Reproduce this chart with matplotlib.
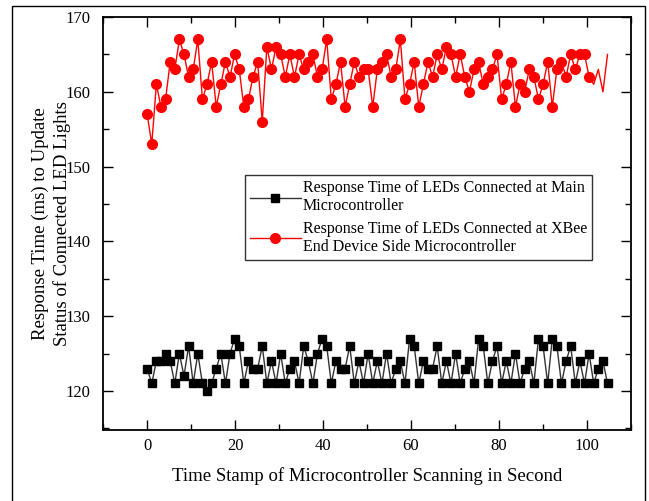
import matplotlib
matplotlib.use('Agg')
import matplotlib.pyplot as plt
import numpy as np
from matplotlib.patches import Rectangle
from matplotlib.ticker import MultipleLocator

plt.rcParams['font.family'] = ['Liberation Serif', 'DejaVu Serif']

# Scan time stamps (s), one reading per scan
scan_time = np.linspace(0, 104.7, 101)

# Response time (ms) for LEDs wired to the main microcontroller
main_ms = [123, 121, 124, 124, 125, 124, 121, 125, 122, 126,
           121, 125, 121, 120, 121, 123, 125, 121, 125, 127,
           126, 121, 124, 123, 123, 126, 121, 124, 121, 125,
           121, 123, 124, 121, 126, 124, 121, 125, 127, 126,
           121, 124, 123, 123, 126, 121, 124, 121, 125, 121,
           124, 121, 125, 121, 123, 124, 121, 127, 126, 121,
           124, 123, 123, 126, 121, 124, 121, 125, 121, 123,
           124, 121, 127, 126, 121, 124, 126, 121, 124, 121,
           125, 121, 123, 124, 121, 127, 126, 121, 127, 126,
           121, 124, 126, 121, 124, 121, 125, 121, 123, 124,
           121]

# Response time (ms) for LEDs on the XBee end device side
xbee_ms = [157, 153, 161, 158, 159, 164, 163, 167, 165, 162,
           163, 167, 159, 161, 164, 158, 161, 164, 162, 165,
           163, 158, 159, 162, 164, 156, 166, 163, 166, 165,
           162, 165, 162, 165, 163, 164, 165, 162, 163, 167,
           159, 161, 164, 158, 161, 164, 162, 163, 163, 158,
           163, 164, 165, 162, 163, 167, 159, 161, 164, 158,
           161, 164, 162, 165, 163, 166, 165, 162, 165, 162,
           160, 163, 164, 161, 162, 163, 165, 159, 161, 164,
           158, 161, 160, 163, 162, 159, 161, 164, 158, 163,
           164, 162, 165, 163, 165, 165, 162, 161, 163, 160,
           165]
xbee_marked = 97  # the last few scans were logged without markers

fig = plt.figure(figsize=(6.49, 5.01), dpi=100)
ax = fig.add_axes([0.159, 0.142, 0.813, 0.824])

ax.plot(scan_time, main_ms, color='#333333', linewidth=1.0,
        marker='s', markersize=6.3, markerfacecolor='black',
        markeredgecolor='black',
        label='Response Time of LEDs Connected at Main\nMicrocontroller')
ax.plot(scan_time, xbee_ms, color='red', linewidth=1.0,
        marker='o', markersize=7, markerfacecolor='red',
        markeredgecolor='red', markevery=list(range(xbee_marked)),
        label='Response Time of LEDs Connected at XBee\nEnd Device Side Microcontroller')

ax.set_xlim(-10, 110)
ax.set_ylim(114.8, 170)
ax.xaxis.set_major_locator(MultipleLocator(20))
ax.xaxis.set_minor_locator(MultipleLocator(10))
ax.yaxis.set_major_locator(MultipleLocator(10))
ax.yaxis.set_minor_locator(MultipleLocator(5))
ax.tick_params(which='both', direction='in', top=True, right=True,
               width=1, labelsize=12)
ax.tick_params(axis='x', pad=6)
ax.tick_params(axis='y', pad=9)
ax.tick_params(which='major', length=7)
ax.tick_params(which='minor', length=4)
for s in ax.spines.values():
    s.set_linewidth(1.3)

ax.set_xlabel('Time Stamp of Microcontroller Scanning in Second',
              fontsize=13.5, labelpad=9)
ax.set_ylabel('Response Time (ms) to Update\nStatus of Connected LED Lights',
              fontsize=13.5, linespacing=1.25, va='center')
ax.yaxis.set_label_coords(-0.098, 0.5)

leg = ax.legend(loc='upper left', bbox_to_anchor=(0.269, 0.617),
                fontsize=11.5, frameon=True, fancybox=False,
                handlelength=3.2, handletextpad=0.1, borderpad=0.3,
                labelspacing=0.4, borderaxespad=0)
leg.get_frame().set_edgecolor('black')
leg.get_frame().set_linewidth(1.0)

# thin frame around the whole figure
fig.patches.append(Rectangle((0.0185, -0.01), 0.975, 0.998,
                             transform=fig.transFigure, fill=False,
                             edgecolor='black', linewidth=1.0))

fig.savefig('out.png', dpi=100)
